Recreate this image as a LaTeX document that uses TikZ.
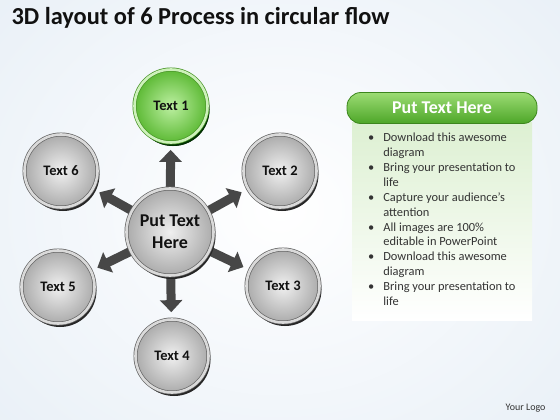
\documentclass[tikz,border=0pt]{standalone}
\usepackage{fontspec}
\setmainfont{Carlito}
\usetikzlibrary{arrows.meta,shadows}
\definecolor{arrowgray}{HTML}{474747}
\definecolor{rimdark}{HTML}{666666}
\definecolor{rimlight}{HTML}{DADADA}
\definecolor{faceinner}{HTML}{F0F0F0}
\definecolor{faceouter}{HTML}{ABABAB}
\definecolor{ginner}{HTML}{BDF0A2}
\definecolor{gouter}{HTML}{5CB934}
\definecolor{grimlight}{HTML}{CDF1BA}
\definecolor{grimdark}{HTML}{4A962A}
\definecolor{hdtop}{HTML}{9CDC74}
\definecolor{hdbot}{HTML}{4DA628}
\definecolor{hdborder}{HTML}{3C861D}
\definecolor{paneltop}{HTML}{DDF0D2}
\definecolor{bgblue}{HTML}{E6EEF6}
\definecolor{textgray}{HTML}{333333}
\definecolor{titleblack}{HTML}{111111}
\pgfdeclarelayer{bg}
\pgfdeclarelayer{arrowlayer}
\pgfsetlayers{bg,arrowlayer,main}
\tikzset{
  disc/.style={circle, inner sep=0pt, minimum size=73pt,
    shading=radial, inner color=faceinner, outer color=faceouter,
    draw=rimdark, line width=0.7pt, double=rimlight, double distance=2.6pt,
    drop shadow={shadow xshift=2pt, shadow yshift=-3.5pt, fill=black!85, opacity=1},
    font=\fontsize{14.5}{16}\selectfont\bfseries, text=titleblack, align=center},
  greendisc/.style={disc, inner color=ginner, outer color=gouter,
    draw=grimdark, double=grimlight,
    drop shadow={shadow xshift=2pt, shadow yshift=-3.5pt, fill=black!80!green, opacity=1}},
  bigdisc/.style={disc, minimum size=87pt, font=\fontsize{18}{22}\selectfont\bfseries},
  flowarrow/.style={draw=arrowgray, line width=9pt,
    -{Triangle[width=22pt,length=12pt]}, shorten >=7pt}
}
\begin{document}
\begin{tikzpicture}[x=1pt,y=-1pt]
\useasboundingbox (0,0) rectangle (560,420);
\begin{pgfonlayer}{bg}
  \fill[inner color=white, outer color=bgblue] (-160,-160) rectangle (720,580);
\end{pgfonlayer}

\node[anchor=base west, font=\fontsize{24.4}{26}\selectfont\bfseries, text=titleblack] (title) at (8,25) {3D layout of 6 Process in circular flow};

\node[bigdisc] (c) at (170,232) {Put Text\\Here};
\node[greendisc] (t1) at (171,106) {Text 1};
\node[disc] (t2) at (280,171) {Text 2};
\node[disc] (t3) at (283,286) {Text 3};
\node[disc] (t4) at (172,356) {Text 4};
\node[disc] (t5) at (58,287) {Text 5};
\node[disc] (t6) at (61,171) {Text 6};

\begin{pgfonlayer}{arrowlayer}
  \foreach \t in {t1,t2,t3,t4,t5,t6}
    \draw[flowarrow] (c) -- (\t);
\end{pgfonlayer}

\node[anchor=north, minimum width=180pt, minimum height=198pt, inner sep=0pt,
  top color=paneltop, bottom color=white] (panel) at (442,122) {};
\node[rounded corners=14pt, minimum width=190pt, minimum height=31pt,
  top color=hdtop, bottom color=hdbot, draw=hdborder, line width=0.8pt,
  text=white, font=\fontsize{18}{20}\selectfont\bfseries] (header) at (442,108) {Put Text Here};

\node[anchor=north west, inner sep=0pt, text=textgray,
  font=\fontsize{12.4}{14.9}\selectfont] (list) at (368,131) {%
  \begin{tabular}{@{}l@{\hspace{9pt}}l@{}}
  \textbullet & Download this awesome\\
   & diagram\\
  \textbullet & Bring your presentation to\\
   & life\\
  \textbullet & Capture your audience’s\\
   & attention\\
  \textbullet & All images are 100\%\\
   & editable in PowerPoint\\
  \textbullet & Download this awesome\\
   & diagram\\
  \textbullet & Bring your presentation to\\
   & life
  \end{tabular}};

\node[anchor=base east, font=\fontsize{10}{12}\selectfont, text=textgray] (logo) at (549,410) {Your Logo};
\end{tikzpicture}
\end{document}
